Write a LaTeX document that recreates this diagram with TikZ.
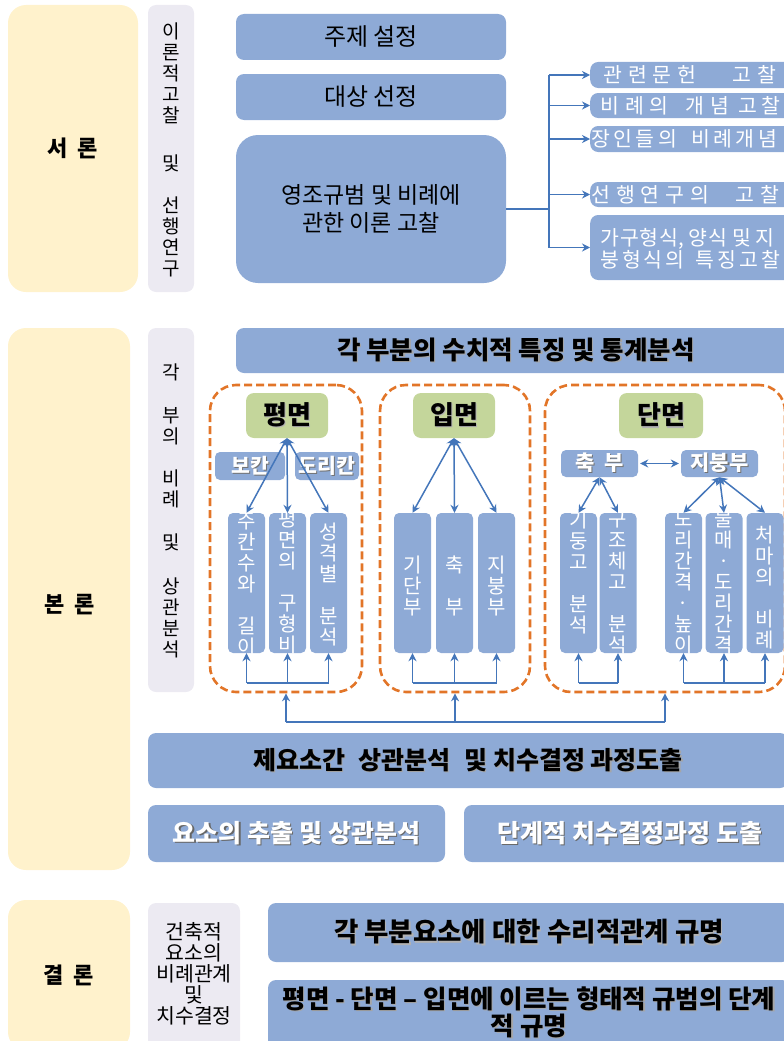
\documentclass[tikz,border=0pt]{standalone}
\usepackage{fontspec}
\setmainfont{Noto Sans CJK KR}
\usetikzlibrary{arrows.meta}
\definecolor{boxblue}{RGB}{142,170,214}
\definecolor{lineblue}{RGB}{68,118,186}
\definecolor{titlegreen}{RGB}{196,214,155}
\definecolor{secyellow}{RGB}{255,242,204}
\definecolor{colgray}{RGB}{236,234,242}
\definecolor{dashorange}{RGB}{226,117,40}
\newcommand\fs[2]{\fontsize{#1pt}{#2pt}\selectfont}
\newcommand\gp[1]{\hspace{#1pt}}
\newcommand\shd[2]{\rlap{\hspace{1.2pt}\raisebox{-1.2pt}{\color{#1}#2}}#2}
\tikzset{
  secbox/.style={fill=secyellow, rounded corners=18pt, inner sep=0pt, font=\fs{22}{26}\bfseries},
  colbox/.style={fill=colgray, rounded corners=8pt, inner sep=0pt},
  coltext/.style={inner sep=0pt, align=center, font=\fs{19}{21}},
  bluebox/.style={fill=boxblue, rounded corners=8pt, inner sep=0pt, align=center},
  smallbox/.style={fill=boxblue, rounded corners=5pt, inner sep=0pt},
  wtext/.style={inner sep=0pt, text=white, font=\fs{20.5}{22}},
  vtext/.style={inner sep=0pt, align=center, text=white, font=\fs{20}{21}},
  greenbox/.style={fill=titlegreen, rounded corners=8pt, inner sep=0pt, font=\fs{26}{30}\bfseries},
  group/.style={draw=dashorange, line width=2.6pt, dash pattern=on 8pt off 4pt, rounded corners=26pt, inner sep=0pt},
  link/.style={draw=lineblue, line width=1.5pt},
  arr/.style={link, -{Stealth[length=8pt,width=8pt]}},
  darr/.style={link, {Stealth[length=8pt,width=8pt]}-{Stealth[length=8pt,width=8pt]}},
}
\begin{document}
\begin{tikzpicture}[x=1pt,y=-1pt]
\useasboundingbox (0,0) rectangle (784,1041);
\clip (0,0) rectangle (784,1041);

% ---------- section labels ----------
\node[secbox, minimum width=130, minimum height=287] (seoron) at (73,148.5) {서\gp{10}론};
\node[secbox, minimum width=122, minimum height=542] (bonron) at (69,599) {};
\node[font=\fs{22}{26}\bfseries, inner sep=0pt] (bonront) at (70,605) {본\gp{10}론};
\node[secbox, minimum width=122, minimum height=150] (gyeolron) at (69,975) {결\gp{10}론};

% ---------- gray columns ----------
\node[colbox, minimum width=46, minimum height=287] (col1) at (171,148.5) {};
\node[coltext] (col1t) at (171,150) {이\\론\\적\\고\\찰\\[27pt]및\\[21pt]선\\행\\연\\구};
\node[colbox, minimum width=46, minimum height=364] (col2) at (171,510) {};
\node[coltext] (col2t) at (171,511) {각\\[22pt]부\\의\\[21pt]비\\례\\[22pt]및\\[23pt]상\\관\\분\\석};
\node[colbox, minimum width=92, minimum height=147] (col3) at (194,976.5) {};
\node[coltext, font=\fs{20.5}{21}] (col3t) at (194,974) {건축적\\요소의\\비례관계\\및\\치수결정};

% ---------- introduction ----------
\node[bluebox, minimum width=270, minimum height=46, font=\fs{24}{28}] (topic) at (371,37) {주제 설정};
\node[bluebox, minimum width=270, minimum height=46, font=\fs{24}{28}] (target) at (371,97) {대상 선정};
\node[bluebox, rounded corners=22pt, minimum width=270, minimum height=148, font=\fs{23}{28}] (theory) at (371,209) {영조규범 및 비례에\\관한 이론 고찰};

\node[bluebox, minimum width=230, minimum height=26, anchor=west] (r1) at (590,75) {};
\node[wtext, anchor=west] (r1t) at (603,75) {관\gp{6}련\gp{6}문\gp{6}헌\gp{36}고\gp{6}찰};
\node[bluebox, minimum width=230, minimum height=25, anchor=west] (r2) at (590,105.5) {};
\node[wtext, anchor=west] (r2t) at (600,105.5) {비\gp{6}례\gp{6}의\gp{17}개\gp{6}념\gp{9}고\gp{4}찰};
\node[bluebox, minimum width=230, minimum height=26, anchor=west] (r3) at (590,139) {};
\node[wtext, anchor=west] (r3t) at (591,139) {장\gp{3.5}인\gp{3.5}들\gp{3.5}의\gp{14}비\gp{3.5}례\gp{3.5}개\gp{3.5}념};
\node[bluebox, minimum width=230, minimum height=25, anchor=west] (r4) at (590,194.5) {};
\node[wtext, anchor=west] (r4t) at (591,194.5) {선\gp{6}행\gp{6}연\gp{6}구\gp{6}의\gp{26}고\gp{6}찰};
\node[bluebox, minimum width=230, minimum height=65, anchor=west] (r5) at (590,247.5) {};
\node[wtext, anchor=west, align=left] (r5t) at (600,249) {가\gp{1}구\gp{1}형\gp{1}식, 양\gp{1}식 및 지\\붕\gp{3}형\gp{3}식\gp{3}의\gp{11}특\gp{3}징\gp{3}고\gp{3}찰};

\coordinate (br) at (549,209);
\draw[link] (theory.east) -- (br);
\draw[link] (br |- r1.west) -- (br |- r5.west);
\foreach \r in {r1,r2,r3,r4,r5} \draw[arr] (br |- \r.west) -- (\r.west);

% ---------- main body ----------
\node[bluebox, minimum width=560, minimum height=45, font=\fs{25.5}{28}\bfseries] (stat) at (516,350.5) {\shd{black!35}{각 부분의 수치적 특징 및 통계분석}};

\node[group, minimum width=152, minimum height=307] (gP) at (286,538.5) {};
\node[group, minimum width=150, minimum height=307] (gE) at (455,538.5) {};
\node[group, minimum width=240, minimum height=307] (gS) at (665,538.5) {};

\node[greenbox, minimum width=82, minimum height=45] (tP) at (287,415.5) {\shd{black!30}{평면}};
\node[greenbox, minimum width=82, minimum height=45] (tE) at (454,415.5) {\shd{black!30}{입면}};
\node[greenbox, minimum width=84, minimum height=45] (tS) at (661,415.5) {\shd{black!30}{단면}};

\node[smallbox, minimum width=70, minimum height=28, text=white, font=\fs{20.5}{22}\bfseries] (bokan) at (250,466) {\shd{black!55}{보칸}};
\node[smallbox, minimum width=64, minimum height=28, text=white, font=\fs{20.5}{22}\bfseries] (dorikan) at (327,466) {\shd{black!55}{도리칸}};

\node[smallbox, minimum width=77, minimum height=27, text=white, font=\fs{21}{22}\bfseries] (chukS) at (599.5,463.5) {\shd{black!55}{축\gp{10}부}};
\node[smallbox, minimum width=77, minimum height=27, text=white, font=\fs{21}{22}\bfseries] (jibungS) at (719.5,463.5) {\shd{black!55}{지붕부}};

% vertical boxes
\foreach \n/\x in {p1/246.5,p2/287.5,p3/328.5,e1/412.5,e2/454.5,e3/496.5,s1/578.5,s2/618,s3/683.5,s4/724,s5/765}
  \node[smallbox, minimum width=37, minimum height=140] (\n) at (\x,583) {};
\node[vtext] (p1t) at (246.5,585) {주\\칸\\수\\와\\[21pt]길\\이};
\node[vtext] (p2t) at (287.5,582.5) {평\\면\\의\\[21pt]구\\형\\비};
\node[vtext] (p3t) at (328.5,585) {성\\격\\별\\[21pt]분\\석};
\node[vtext] (e1t) at (412.5,586) {기\\단\\부};
\node[vtext] (e2t) at (454.5,586) {축\\[21pt]부};
\node[vtext] (e3t) at (496.5,586) {지\\붕\\부};
\node[vtext] (s1t) at (578.5,572.5) {기\\둥\\고\\[21pt]분\\석};
\node[vtext] (s2t) at (618,582.5) {구\\조\\체\\고\\[21pt]분\\석};
\node[vtext] (s3t) at (683.5,582.5) {도\\리\\간\\격\\·\\높\\이};
\node[vtext] (s4t) at (724,582.5) {물\\매\\·\\도\\리\\간\\격};
\node[vtext] (s5t) at (765,588) {처\\마\\의\\[21pt]비\\례};

% arrows from titles
\foreach \b in {p1,p2,p3} \draw[darr] (tP.south) -- (\b.north);
\foreach \b in {e1,e2,e3} \draw[darr] (tE.south) -- (\b.north);
\foreach \b in {s1,s2} \draw[darr] (chukS.south) -- (\b.north);
\foreach \b in {s3,s4,s5} \draw[darr] (jibungS.south) -- (\b.north);
\draw[darr, shorten <=2pt, shorten >=2pt] (chukS) -- (jibungS);

% inner bottom connectors
\coordinate (inY) at (0,683);
\draw[link] (p1.south |- inY) -- (p3.south |- inY);
\draw[link] (e1.south |- inY) -- (e3.south |- inY);
\draw[link] (s1.south |- inY) -- (s2.south |- inY);
\draw[link] (s3.south |- inY) -- (s5.south |- inY);
\foreach \b in {p1,p2,p3,e1,e2,e3,s1,s2,s3,s4,s5} \draw[arr] (\b.south |- inY) -- (\b.south);

% outer connector
\coordinate (outY) at (0,722);
\draw[link] (gP.south |- outY) -- (gS.south |- outY);
\foreach \g in {gP,gE,gS} \draw[arr] (\g.south |- outY) -- (\g.south);

\node[bluebox, minimum width=640, minimum height=55, font=\fs{25}{28}\bfseries] (corr) at (468,760.5) {\shd{black!35}{제요소간\gp{8} 상관분석\gp{8} 및 치수결정 과정도출}};
\node[bluebox, minimum width=297, minimum height=57, text=white, font=\fs{25}{28}\bfseries] (ext) at (296.5,833.5) {\shd{black!60}{요소의 추출 및 상관분석}};
\node[bluebox, minimum width=332, minimum height=57, text=white, font=\fs{25}{28}\bfseries] (stepx) at (630,833.5) {\shd{black!60}{단계적 치수결정과정 도출}};

% ---------- conclusion ----------
\node[bluebox, minimum width=522, minimum height=59, font=\fs{26.5}{30}\bfseries] (rel) at (529,932.5) {\shd{black!30}{각 부분요소에 대한 수리적관계 규명}};
\node[bluebox, minimum width=522, minimum height=80] (form) at (529,1020) {};
\node[font=\fs{25.5}{27}\bfseries, align=center, inner sep=0pt] (formt) at (529,1013) {\shd{black!35}{평면 - 단면 – 입면에 이르는 형태적 규범의 단계}\\\shd{black!35}{적 규명}};
\end{tikzpicture}
\end{document}
